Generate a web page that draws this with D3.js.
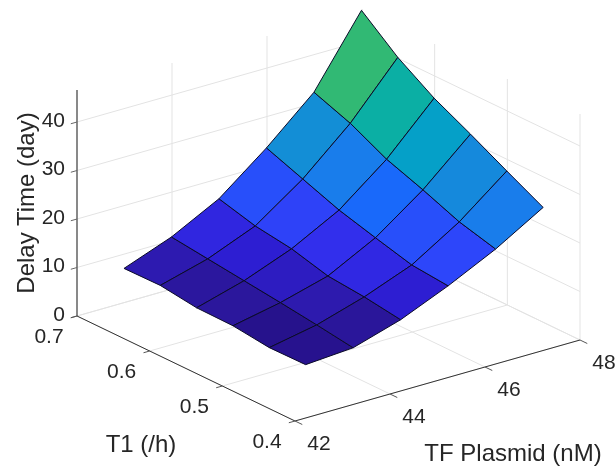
<!DOCTYPE html>
<html>
<head>
<meta charset="utf-8">
<script src="https://cdn.jsdelivr.net/npm/d3@7"></script>
<style>html,body{margin:0;padding:0;background:#fff}svg{display:block;filter:blur(0.35px)}text{font-family:"Liberation Sans",Arial,sans-serif;fill:#262626}</style>
</head>
<body>
<svg id="c" width="616" height="466"></svg>
<script>
const tfValues = [42.53, 43.53, 44.53, 45.53, 46.53, 47.53];
const t1Values = [0.42, 0.47, 0.52, 0.57, 0.62, 0.67];
const delayRows = [
  [8.7, 9.4, 12.4, 16.6, 21.4, 27.2],
  [8.6, 10.5, 13.5, 17.3, 23.4, 31.1],
  [9.5, 11.5, 14.2, 19.3, 26.4, 35.1],
  [9.6, 12.4, 16.2, 21.4, 29.1, 38.9],
  [10.6, 13.3, 17.3, 24.2, 32.9, 43.7],
  [10.5, 14.2, 19.3, 27.0, 35.7, 49.8]
];
const tfTicks = [42, 44, 46, 48];
const t1Ticks = [0.4, 0.5, 0.6, 0.7];
const delayTicks = [0, 10, 20, 30, 40];
const colorStops = [8.6, 10, 12.4, 14, 16.6, 19.3, 21.4, 24, 26.4, 29, 33];
const colorValues = ["#26128c","#2d19a5","#2d1ed2","#322deb","#2d46fa","#1969fa","#197deb","#148cd7","#05a0c8","#0aafa5","#32b973"];

const ox = 295, oy = 421;
const tfX = d3.scaleLinear().domain([42, 48]).range([0, 285]);
const tfY = d3.scaleLinear().domain([42, 48]).range([0, -81]);
const t1X = d3.scaleLinear().domain([0.4, 0.7]).range([0, -218]);
const t1Y = d3.scaleLinear().domain([0.4, 0.7]).range([0, -105]);
const zY = d3.scaleLinear().domain([0, 10]).range([0, -48.5]);
const zTop = 46.6;
const P = (x, t, z) => [ox + tfX(x) + t1X(t), oy + tfY(x) + t1Y(t) + zY(z)];
const color = d3.scaleLinear().domain(colorStops).range(colorValues).clamp(true);

const svg = d3.select("#c");
const line = d3.line();
const seg = (g, a, b, stroke, w) => g.append("path").attr("d", line([a, b])).attr("fill", "none").attr("stroke", stroke).attr("stroke-width", w);

const grid = svg.append("g");
const gc = "#e3e3e3";
tfTicks.forEach(x => {
  seg(grid, P(x, 0.7, 0), P(x, 0.7, zTop), gc, 1);
  seg(grid, P(x, 0.4, 0), P(x, 0.7, 0), gc, 1);
});
t1Ticks.forEach(t => {
  seg(grid, P(48, t, 0), P(48, t, zTop), gc, 1);
  seg(grid, P(42, t, 0), P(48, t, 0), gc, 1);
});
delayTicks.forEach(z => {
  seg(grid, P(42, 0.7, z), P(48, 0.7, z), gc, 1);
  seg(grid, P(48, 0.7, z), P(48, 0.4, z), gc, 1);
});

const surf = svg.append("g");
const cells = [];
for (let j = t1Values.length - 2; j >= 0; j--) for (let i = 0; i < tfValues.length - 1; i++) cells.push({i, j});
surf.selectAll("path").data(cells).join("path")
  .attr("d", ({i, j}) => line([
    P(tfValues[i], t1Values[j], delayRows[j][i]),
    P(tfValues[i + 1], t1Values[j], delayRows[j][i + 1]),
    P(tfValues[i + 1], t1Values[j + 1], delayRows[j + 1][i + 1]),
    P(tfValues[i], t1Values[j + 1], delayRows[j + 1][i])
  ]) + "Z")
  .attr("fill", ({i, j}) => color(delayRows[j][i]))
  .attr("stroke", "#0a0a28")
  .attr("stroke-width", 1)
  .attr("stroke-linejoin", "round");

const axes = svg.append("g");
const ac = "#333";
seg(axes, P(42, 0.7, 0), P(42, 0.7, zTop), ac, 1.1);
seg(axes, P(42, 0.7, 0), P(42, 0.4, 0), ac, 1);
seg(axes, P(42, 0.4, 0), P(48, 0.4, 0), ac, 1);
delayTicks.forEach(z => seg(axes, P(42, 0.7, z), P(41.87, 0.7, z), "#666", 1));
t1Ticks.forEach(t => seg(axes, P(42, t, 0), P(41.87, t, 0), "#555", 1));
tfTicks.forEach(x => seg(axes, P(x, 0.4, 0), P(x, 0.39, 0), "#555", 1));

const labels = svg.append("g").attr("font-size", 21);
delayTicks.forEach(z => {
  const p = P(42, 0.7, z);
  labels.append("text").attr("x", p[0] - 12).attr("y", p[1] - 3).attr("text-anchor", "end").attr("dominant-baseline", "central").text(z);
});
t1Ticks.forEach(t => {
  const p = P(42, t, 0);
  labels.append("text").attr("x", p[0] - 28).attr("y", p[1] + 19).attr("text-anchor", "middle").attr("dominant-baseline", "central").text(d3.format(".1f")(t));
});
tfTicks.forEach(x => {
  const p = P(x, 0.4, 0);
  labels.append("text").attr("x", p[0] + 24).attr("y", p[1] + 21).attr("text-anchor", "middle").attr("dominant-baseline", "central").text(x);
});
labels.append("text").attr("text-anchor", "middle").attr("dominant-baseline", "central")
  .attr("transform", "translate(25,203) rotate(-90)").attr("font-size", 24).text("Delay Time (day)");
labels.append("text").attr("x", 141).attr("y", 443).attr("text-anchor", "middle").attr("dominant-baseline", "central").attr("font-size", 24).text("T1 (/h)");
labels.append("text").attr("x", 513).attr("y", 452).attr("text-anchor", "middle").attr("dominant-baseline", "central").attr("font-size", 24).text("TF Plasmid (nM)");
</script>
</body>
</html>
